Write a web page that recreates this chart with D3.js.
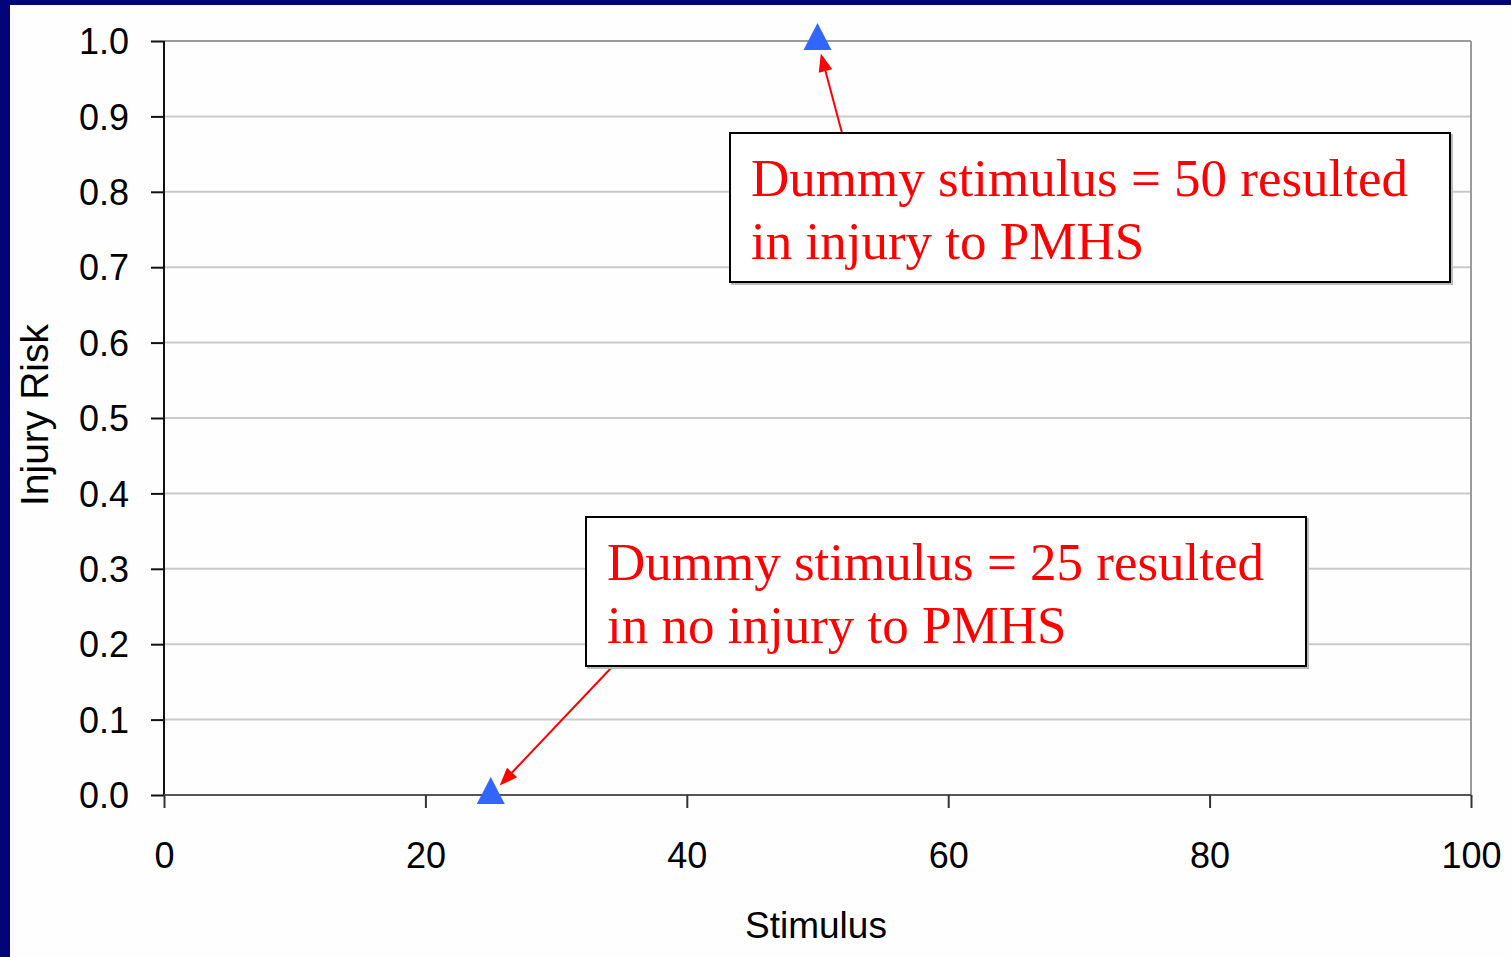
<!DOCTYPE html>
<html>
<head>
<meta charset="utf-8">
<script src="https://cdn.jsdelivr.net/npm/d3@7"></script>
<style>
  html, body { margin: 0; padding: 0; background: #fff; }
  svg { display: block; }
</style>
</head>
<body>
<svg id="chart" width="1511" height="957"></svg>
<script>
// Observations: dummy stimulus vs. PMHS injury outcome (1 = injury, 0 = no injury)
const stimulus = [25, 50];
const injuryRisk = [0, 1];
const notes = [
  ["Dummy stimulus = 25 resulted", "in no injury to PMHS"],
  ["Dummy stimulus = 50 resulted", "in injury to PMHS"]
];
const xTicks = [0, 20, 40, 60, 80, 100];
const yTicks = [0, 0.1, 0.2, 0.3, 0.4, 0.5, 0.6, 0.7, 0.8, 0.9, 1.0];

const W = 1511, H = 957;
const plot = { left: 164, right: 1471, top: 41, bottom: 795 };

const svg = d3.select("#chart");

// slide frame
svg.append("rect").attr("x", 0).attr("y", 0).attr("width", W).attr("height", H).attr("fill", "#03037a");
svg.append("rect").attr("x", 10).attr("y", 5).attr("width", W - 10).attr("height", H - 5).attr("fill", "#fefefe");

const x = d3.scaleLinear().domain([0, 100]).range([plot.left, plot.right]);
const y = d3.scaleLinear().domain([0, 1]).range([plot.bottom, plot.top]);

// horizontal gridlines
svg.append("g").selectAll("line")
  .data(yTicks.filter(t => t > 0 && t < 1))
  .join("line")
  .attr("x1", plot.left).attr("x2", plot.right)
  .attr("y1", d => y(d)).attr("y2", d => y(d))
  .attr("stroke", "#cacaca").attr("stroke-width", 2);

// top and right frame of the plot area
svg.append("line").attr("x1", plot.left).attr("x2", plot.right)
  .attr("y1", y(1)).attr("y2", y(1)).attr("stroke", "#9a9a9a").attr("stroke-width", 2);
svg.append("line").attr("x1", plot.right).attr("x2", plot.right)
  .attr("y1", plot.top).attr("y2", plot.bottom).attr("stroke", "#9a9a9a").attr("stroke-width", 2);

// axes
const yAxis = d3.axisLeft(y).tickValues(yTicks).tickFormat(d3.format(".1f")).tickSize(13).tickPadding(22);
const xAxis = d3.axisBottom(x).tickValues(xTicks).tickFormat(d3.format("d")).tickSize(13).tickPadding(34);

const gy = svg.append("g").attr("transform", `translate(${plot.left},0)`).call(yAxis);
gy.select(".domain").attr("stroke", "#111").attr("stroke-width", 2).attr("d", `M0,${plot.top}V${plot.bottom}`);
gy.selectAll(".tick line").attr("stroke", "#111").attr("stroke-width", 2);
gy.selectAll(".tick text")
  .attr("font-family", "'Liberation Sans', Arial, sans-serif").attr("font-size", 36)
  .attr("fill", "#000").attr("dy", "0.35em");

const gx = svg.append("g").attr("transform", `translate(0,${plot.bottom})`).call(xAxis);
gx.select(".domain").attr("stroke", "#555").attr("stroke-width", 2).attr("d", `M${plot.left},0H${plot.right}`);
gx.selectAll(".tick line").attr("stroke", "#333").attr("stroke-width", 2);
gx.selectAll(".tick text")
  .attr("font-family", "'Liberation Sans', Arial, sans-serif").attr("font-size", 36)
  .attr("fill", "#000").attr("dy", "0.71em");

// axis titles
svg.append("text")
  .attr("x", 816).attr("y", 938)
  .attr("text-anchor", "middle")
  .attr("font-family", "'Liberation Sans', Arial, sans-serif").attr("font-size", 37)
  .attr("fill", "#000")
  .text("Stimulus");

svg.append("text")
  .attr("transform", "translate(48,415) rotate(-90)")
  .attr("text-anchor", "middle")
  .attr("font-family", "'Liberation Sans', Arial, sans-serif").attr("font-size", 39)
  .attr("fill", "#000")
  .text("Injury Risk");

// annotation boxes (layout only)
const boxes = [
  { x: 586, y: 517, w: 720, h: 149, tail: [612, 667] },
  { x: 730, y: 133, w: 720, h: 149, tail: [842, 133] }
];

const points = stimulus.map((s, i) => ({ s, r: injuryRisk[i], note: notes[i], box: boxes[i] }));

// arrows from each box to its observation
const arrows = svg.append("g");
points.forEach(p => {
  const cx = x(p.s), cy = y(p.r);
  const [tx, ty] = p.box.tail;
  const dx = tx - cx, dy = ty - cy, len = Math.hypot(dx, dy);
  const ux = dx / len, uy = dy / len;
  const tipX = cx + ux * 13, tipY = cy + uy * 13;
  const headLen = 18, headW = 7;
  const bx = tipX + ux * headLen, by = tipY + uy * headLen;
  arrows.append("line")
    .attr("x1", tx).attr("y1", ty).attr("x2", bx).attr("y2", by)
    .attr("stroke", "#ff0000").attr("stroke-width", 2);
  arrows.append("path")
    .attr("d", `M${tipX},${tipY}L${bx - uy * headW},${by + ux * headW}L${bx + uy * headW},${by - ux * headW}Z`)
    .attr("fill", "#ff0000");
});

// observation markers
svg.append("g").selectAll("path")
  .data(points)
  .join("path")
  .attr("transform", d => `translate(${x(d.s)},${y(d.r)})`)
  .attr("d", "M0,-18L14,9L-14,9Z")
  .attr("fill", "#3366ff");

// annotation text
points.forEach(p => {
  const b = p.box;
  svg.append("rect")
    .attr("x", b.x + 2).attr("y", b.y + 2).attr("width", b.w).attr("height", b.h)
    .attr("fill", "none").attr("stroke", "#bbb").attr("stroke-width", 2);
  svg.append("rect")
    .attr("x", b.x).attr("y", b.y).attr("width", b.w).attr("height", b.h)
    .attr("fill", "#fff").attr("stroke", "#000").attr("stroke-width", 2);
  const t = svg.append("text")
    .attr("font-family", "'Liberation Serif', 'Times New Roman', serif")
    .attr("font-size", 53).attr("fill", "#ff0000");
  p.note.forEach((line, k) => {
    t.append("tspan").attr("x", b.x + 21).attr("y", b.y + 63 + k * 63).text(line);
  });
});
</script>
</body>
</html>
